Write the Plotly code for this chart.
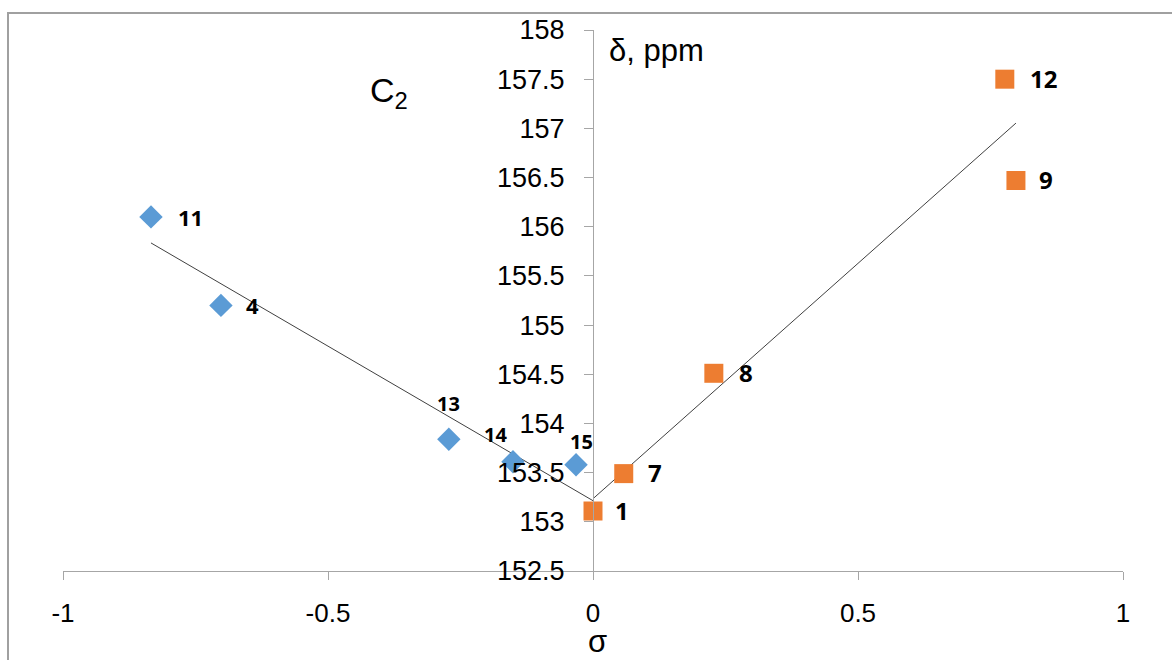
import numpy as np
import plotly.graph_objects as go

# --- data ---
blue_x = [-0.834, -0.702, -0.272, -0.151, -0.032]
blue_y = [156.10, 155.20, 153.84, 153.61, 153.58]
blue_labels = ["11", "4", "13", "14", "15"]

orange_x = [0.0, 0.058, 0.228, 0.777, 0.798]
orange_y = [153.11, 153.49, 154.51, 157.50, 156.47]
orange_labels = ["1", "7", "8", "12", "9"]

x_ticks = [-1, -0.5, 0, 0.5, 1]
x_ticktext = ["-1", "-0.5", "0", "0.5", "1"]
y_ticks = [152.5, 153, 153.5, 154, 154.5, 155, 155.5, 156, 156.5, 157, 157.5, 158]

BLUE = "#5b9bd5"
ORANGE = "#ed7d31"
AX = "#a6a6a6"

fig = go.Figure()

# linear trend lines
bs, bi = np.polyfit(blue_x, blue_y, 1)
bx = [min(blue_x), 0.0]
fig.add_trace(go.Scatter(x=bx, y=[bs * v + bi for v in bx], mode="lines",
                         line=dict(color="#404040", width=1), showlegend=False,
                         hoverinfo="skip"))
os_, oi = np.polyfit(orange_x, orange_y, 1)
ox = [0.0, max(orange_x)]
fig.add_trace(go.Scatter(x=ox, y=[os_ * v + oi for v in ox], mode="lines",
                         line=dict(color="#404040", width=1), showlegend=False,
                         hoverinfo="skip"))

fig.add_trace(go.Scatter(x=blue_x, y=blue_y, mode="markers",
                         marker=dict(symbol="diamond", size=18, color=BLUE,
                                     line=dict(width=0)), showlegend=False))
fig.add_trace(go.Scatter(x=orange_x, y=orange_y, mode="markers",
                         marker=dict(symbol="square", size=19, color=ORANGE,
                                     line=dict(width=0)), showlegend=False))

# point labels (offsets in pixels)
blue_off = [(25, 0, "left", 22), (23, 0, "left", 22), (0, 36, "center", 20),
            (-17, 27, "center", 20), (5, 23, "center", 20)]
orange_off = [(20, 1, "left", 24), (22, 1, "left", 24), (23, 1, "left", 24),
              (23, 1, "left", 24), (21, 1, "left", 24)]
for xs, ys, labs, offs in [(blue_x, blue_y, blue_labels, blue_off),
                           (orange_x, orange_y, orange_labels, orange_off)]:
    for xv, yv, t, (dx, dy, anc, fs) in zip(xs, ys, labs, offs):
        fig.add_annotation(x=xv, y=yv, text="<b>%s</b>" % t, showarrow=False,
                           xanchor=anc, yanchor="middle", xshift=dx, yshift=dy,
                           font=dict(family="Open Sans", size=fs, color="black"))

W, H = 1172, 660
L, R, T, B = 63, 49, 30, 89
pw, ph = W - L - R, H - T - B

def px(xp):
    return (xp - L) / pw

def py(yp):
    return (H - B - yp) / ph

fig.add_annotation(xref="paper", yref="paper", x=px(597), y=py(641), text="σ",
                   showarrow=False, xanchor="center", yanchor="middle",
                   font=dict(family="Liberation Sans", size=31, color="black"))
fig.add_annotation(xref="paper", yref="paper", x=px(607), y=py(50), text="δ, ppm",
                   showarrow=False, xanchor="left", yanchor="middle",
                   font=dict(family="Liberation Sans", size=31, color="black"))
fig.add_annotation(xref="paper", yref="paper", x=px(368), y=py(92),
                   text="C<sub>2</sub>", showarrow=False, xanchor="left",
                   yanchor="middle",
                   font=dict(family="Liberation Sans", size=34, color="black"))

# chart border
fig.add_shape(type="rect", xref="paper", yref="paper",
              x0=px(8), x1=px(1185), y0=py(13), y1=py(680),
              line=dict(color="#a0a0a0", width=2), layer="below")

fig.update_layout(
    width=W, height=H, margin=dict(l=L, r=R, t=T, b=B, autoexpand=False),
    paper_bgcolor="white", plot_bgcolor="white",
    xaxis=dict(range=[-1, 1], tickvals=x_ticks, ticktext=x_ticktext,
               showgrid=False, zeroline=False, showline=True, linecolor=AX,
               linewidth=1, ticks="outside", ticklen=8, tickcolor=AX,
               ticklabelstandoff=11,
               tickfont=dict(family="Liberation Sans", size=26, color="black")),
    yaxis=dict(range=[152.5, 158], tickvals=y_ticks, showgrid=False,
               zeroline=False, showline=True, linecolor=AX, linewidth=1,
               ticks="outside", ticklen=9, tickcolor=AX, anchor="free",
               position=0.5, ticklabelstandoff=14,
               tickfont=dict(family="Liberation Sans", size=27, color="black")),
)

fig.write_html("out.html")
